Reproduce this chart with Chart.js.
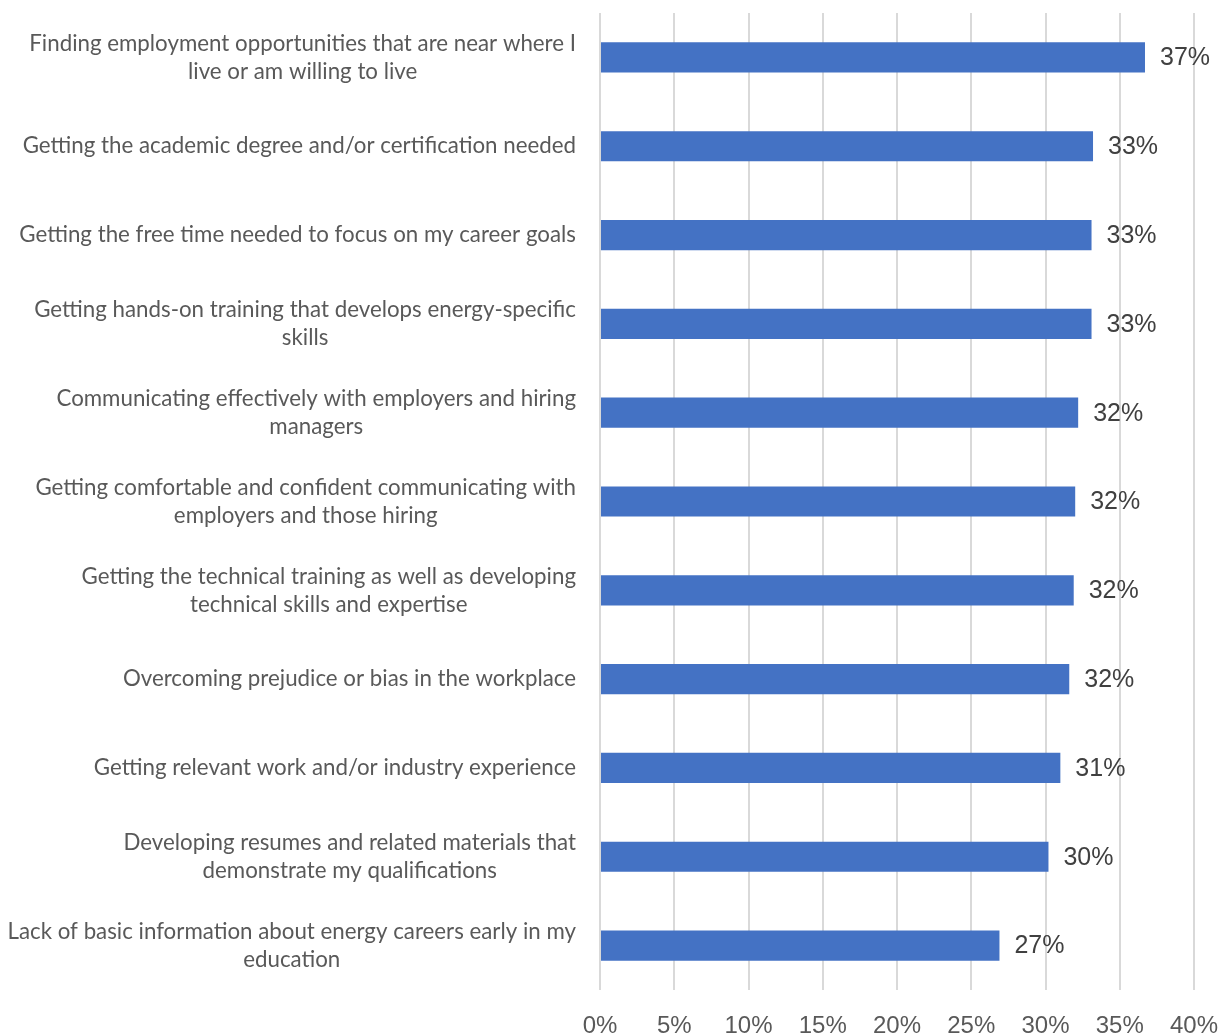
<!DOCTYPE html>
<html>
<head>
<meta charset="utf-8">
<script src="https://cdn.jsdelivr.net/npm/chart.js@4"></script>
<style>
  html, body { margin: 0; padding: 0; background: #fff; }
  #wrap { width: 1220px; height: 1036px; }
</style>
</head>
<body>
<div id="wrap"><canvas id="barriersChart"></canvas></div>
<script>
// Survey categories (each entry is one wrapped label)
const categories = [
    ['Finding employment opportunities that are near where I', 'live or am willing to live'],
    ['Getting the academic degree and/or certification needed'],
    ['Getting the free time needed to focus on my career goals'],
    ['Getting hands-on training that develops energy-specific', 'skills'],
    ['Communicating effectively with employers and hiring', 'managers'],
    ['Getting comfortable and confident communicating with', 'employers and those hiring'],
    ['Getting the technical training as well as developing', 'technical skills and expertise'],
    ['Overcoming prejudice or bias in the workplace'],
    ['Getting relevant work and/or industry experience'],
    ['Developing resumes and related materials that', 'demonstrate my qualifications'],
    ['Lack of basic information about energy careers early in my', 'education']
];

// Share of respondents, percent
const shares = [36.7, 33.2, 33.1, 33.1, 32.2, 32.0, 31.9, 31.6, 31.0, 30.2, 26.9];

const xTicks = [0, 5, 10, 15, 20, 25, 30, 35, 40];

// category labels: lines centred on each other, block right-aligned to the axis
const categoryLabels = {
    id: 'categoryLabels',
    afterDraw(chart) {
        const ctx = chart.ctx;
        const yScale = chart.scales.y;
        const right = chart.chartArea.left - 24;
        const lineH = 28;
        ctx.save();
        ctx.font = '22.3px Lato, "Open Sans", sans-serif';
        ctx.fillStyle = '#595959';
        ctx.textAlign = 'center';
        ctx.textBaseline = 'middle';
        categories.forEach((lines, i) => {
            const y = yScale.getPixelForTick(i);
            const w = Math.max(...lines.map(l => ctx.measureText(l).width));
            const cx = right - w / 2;
            const top = y - (lines.length - 1) * lineH / 2;
            lines.forEach((l, k) => ctx.fillText(l, cx, top + k * lineH));
        });
        ctx.restore();
    }
};

// draws the rounded percentage just past the end of each bar
const valueLabels = {
    id: 'valueLabels',
    afterDatasetsDraw(chart) {
        const ctx = chart.ctx;
        const meta = chart.getDatasetMeta(0);
        ctx.save();
        ctx.font = '25px "Liberation Sans", Arial, sans-serif';
        ctx.fillStyle = '#404040';
        ctx.textBaseline = 'middle';
        ctx.textAlign = 'left';
        meta.data.forEach((bar, i) => {
            ctx.fillText(Math.round(shares[i]) + '%', bar.x + 15, bar.y + 1);
        });
        ctx.restore();
    }
};

const ctx = document.getElementById('barriersChart').getContext('2d');
const barriersChart = new Chart(ctx, {
    type: 'bar',
    data: {
        labels: categories.map(l => l.join(' ')),
        datasets: [{
            data: shares,
            backgroundColor: '#4472c4',
            categoryPercentage: 1.0,
            barPercentage: 0.34
        }]
    },
    options: {
        indexAxis: 'y',
        responsive: true,
        maintainAspectRatio: false,
        animation: false,
        layout: { padding: { top: 13, right: 26, left: 0, bottom: 0 } },
        plugins: {
            legend: { display: false },
            tooltip: { enabled: false }
        },
        scales: {
            x: {
                min: 0,
                max: 40,
                afterBuildTicks(scale) {
                    scale.ticks = xTicks.map(v => ({ value: v }));
                },
                afterFit(scale) {
                    scale.height = 46;
                    scale.paddingLeft = 0;
                    scale.paddingRight = 0;
                },
                grid: { color: '#d9d9d9', lineWidth: 2, drawTicks: false },
                border: { display: false },
                ticks: {
                    padding: 22,
                    color: '#595959',
                    font: { family: '"Liberation Sans", Arial, sans-serif', size: 24 },
                    callback: v => v + '%'
                }
            },
            y: {
                afterFit(scale) { scale.width = 600; },
                grid: { display: false, drawTicks: false },
                border: { display: false },
                ticks: { display: false }
            }
        }
    },
    plugins: [categoryLabels, valueLabels]
});
</script>
</body>
</html>
